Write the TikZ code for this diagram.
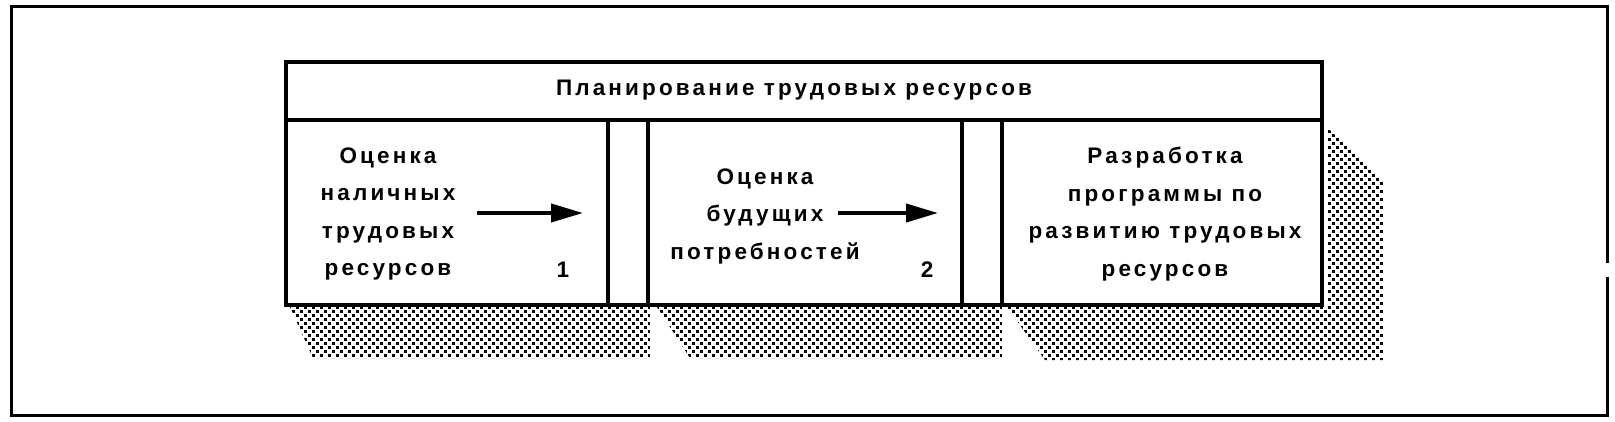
\documentclass[tikz,border=0pt]{standalone}
\usepackage{fontspec}
\setmainfont{Liberation Sans}[LetterSpace=14]
\usetikzlibrary{arrows.meta,patterns}
\pgfdeclarepatternformonly{stipple}{\pgfqpoint{-2pt}{-2pt}}{\pgfqpoint{10pt}{10pt}}{\pgfqpoint{8pt}{8pt}}{%
  \pgfpathrectangle{\pgfqpoint{0.2pt}{0.2pt}}{\pgfqpoint{2.6pt}{2.6pt}}%
  \pgfpathrectangle{\pgfqpoint{4.2pt}{4.2pt}}{\pgfqpoint{2.6pt}{2.6pt}}%
  \pgfusepath{fill}}
\tikzset{
  frame/.style={line width=3pt},
  boxst/.style={draw, line width=4.5pt, fill=white, inner sep=0pt, outer sep=0pt},
  shadowst/.style={pattern=stipple, pattern color=black},
  txt/.style={font=\fontsize{22.5}{37.5}\selectfont\bfseries, align=center, inner sep=0pt},
  numtxt/.style={font=\fontsize{22.5}{26}\selectfont\bfseries, inner sep=0pt},
  arr/.style={line width=4pt, -{Triangle[length=32pt,width=18pt]}}
}
\begin{document}
\begin{tikzpicture}[x=1pt,y=-1pt]
\useasboundingbox (0,0) rectangle (1615,421);
% outer frame (with small break on the right edge)
\draw[frame] (1607,263) -- (1607,6) -- (11,6) -- (11,415) -- (1607,415) -- (1607,277);
% shadows
\fill[shadowst] (290,307) -- (650,307) -- (650,358) -- (313,358) -- cycle;
\fill[shadowst] (657,307) -- (1002,307) -- (1002,358) -- (690,358) -- cycle;
\fill[shadowst] (1007,307) -- (1327,307) -- (1327,127) -- (1383,180) -- (1383,360) -- (1045,360) -- cycle;
% boxes
\node[boxst, minimum width=1036pt, minimum height=58pt] (hdr) at (804,91) {};
\node[boxst, minimum width=322pt, minimum height=185pt] (b1) at (447,212.5) {};
\node[boxst, minimum width=40pt, minimum height=185pt] (g1) at (628,212.5) {};
\node[boxst, minimum width=314pt, minimum height=185pt] (b2) at (805,212.5) {};
\node[boxst, minimum width=40pt, minimum height=185pt] (g2) at (982,212.5) {};
\node[boxst, minimum width=320pt, minimum height=185pt] (b3) at (1162,212.5) {};
% texts
\node[txt] (t0) at (794,90) {Планирование трудовых ресурсов};
\node[txt] (t1) at (388,214) {Оценка\\наличных\\трудовых\\ресурсов};
\node[numtxt] (n1) at (563,270) {1};
\node[txt] (t2) at (765,216) {Оценка\\будущих\\потребностей};
\node[numtxt] (n2) at (927,270) {2};
\node[txt] (t3) at (1165,214) {Разработка\\программы по\\развитию трудовых\\ресурсов};
% arrows
\coordinate (a1s) at (477,213);
\coordinate (a1e) at (583,213);
\coordinate (a2s) at (838,213);
\coordinate (a2e) at (938,213);
\draw[arr] (a1s) -- (a1e);
\draw[arr] (a2s) -- (a2e);
\end{tikzpicture}
\end{document}
